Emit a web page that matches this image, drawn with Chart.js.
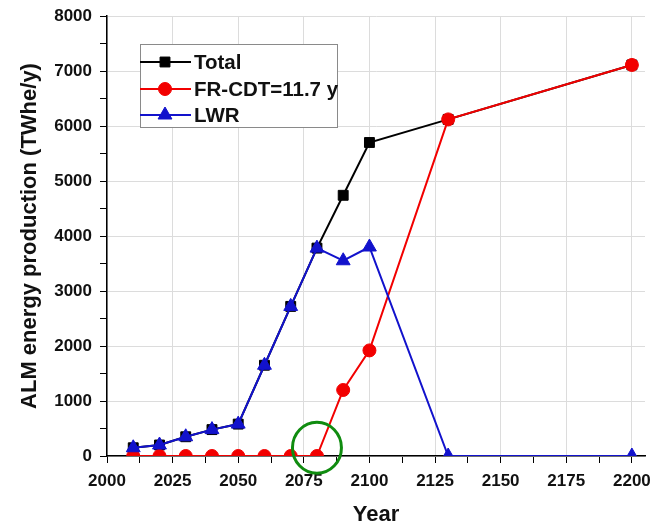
<!DOCTYPE html>
<html><head><meta charset="utf-8">
<script src="https://cdn.jsdelivr.net/npm/chart.js@4.4.0/dist/chart.umd.min.js"></script>
<style>html,body{margin:0;padding:0;background:#fff}#wrap{width:654px;height:526px}</style>
</head><body><div id="wrap"><canvas id="c" width="654" height="526"></canvas></div>
<script>
const years = [2010, 2020, 2030, 2040, 2050, 2060, 2070, 2080, 2090, 2100, 2130, 2200];
const totalValues = [150, 200, 350, 480, 580, 1650, 2720, 3780, 4740, 5700, 6120, 7110];
const frValues = [0, 0, 0, 0, 0, 0, 0, 0, 1200, 1920, 6120, 7110];
const lwrValues = [150, 200, 350, 480, 580, 1650, 2720, 3780, 3550, 3800, 0, 0];
const seriesNames = ['Total', 'FR-CDT=11.7 y', 'LWR'];
const xAxisTitle = 'Year';
const yAxisTitle = 'ALM energy production (TWhe/y)';
const highlightPoint = {x: 2080, y: 150};

const FONT = '"Liberation Sans", Arial, sans-serif';
const colors = {total: '#000000', fr: '#f20000', lwr: '#1212cc'};
const styles = [
  {color: colors.total, point: 'rect', radius: 7},
  {color: colors.fr, point: 'circle', radius: 6.5},
  {color: colors.lwr, point: 'triangle', radius: 8}
];

function toPoints(vals) { return years.map((y, i) => ({x: y, y: vals[i]})); }

function drawMarker(ctx, type, x, y, r, color) {
  ctx.save();
  ctx.fillStyle = color; ctx.strokeStyle = color; ctx.lineWidth = 1;
  ctx.beginPath();
  if (type === 'rect') {
    const s = Math.SQRT1_2 * r;
    ctx.rect(x - s, y - s, 2 * s, 2 * s);
  } else if (type === 'circle') {
    ctx.arc(x, y, r, 0, Math.PI * 2);
  } else {
    ctx.moveTo(x, y - r);
    ctx.lineTo(x + Math.cos(Math.PI / 6) * r, y + r / 2);
    ctx.lineTo(x - Math.cos(Math.PI / 6) * r, y + r / 2);
    ctx.closePath();
  }
  ctx.fill(); ctx.stroke();
  ctx.restore();
}

const areaClip = {
  id: 'areaClip',
  beforeDatasetsDraw(chart) {
    const ca = chart.chartArea, ctx = chart.ctx;
    ctx.save();
    ctx.beginPath();
    ctx.rect(ca.left, ca.top - 10, ca.right - ca.left + 10, ca.bottom - ca.top + 10);
    ctx.clip();
  },
  afterDatasetsDraw(chart) { chart.ctx.restore(); }
};

const boxLegend = {
  id: 'boxLegend',
  afterDraw(chart) {
    const ctx = chart.ctx, ca = chart.chartArea;
    const left = ca.left + 33, top = ca.top + 28, w = 197, h = 83;
    ctx.save();
    ctx.fillStyle = '#ffffff';
    ctx.fillRect(left, top, w, h);
    ctx.strokeStyle = '#8a8a8a'; ctx.lineWidth = 1;
    ctx.strokeRect(left + 0.5, top + 0.5, w, h);
    const rowsY = [top + 18, top + 45, top + 71];
    seriesNames.forEach((name, i) => {
      const st = styles[i];
      ctx.strokeStyle = st.color; ctx.lineWidth = 2;
      ctx.beginPath(); ctx.moveTo(left, rowsY[i]); ctx.lineTo(left + 51, rowsY[i]); ctx.stroke();
      drawMarker(ctx, st.point, left + 25, rowsY[i], st.radius, st.color);
      ctx.fillStyle = '#111';
      ctx.font = 'bold 20.5px ' + FONT;
      ctx.textBaseline = 'middle'; ctx.textAlign = 'left';
      ctx.fillText(name, left + 54, rowsY[i] + 1);
    });
    const xs = chart.scales.x, ys = chart.scales.y;
    const cx = xs.getPixelForValue(highlightPoint.x), cy = ys.getPixelForValue(highlightPoint.y);
    ctx.strokeStyle = '#108c10'; ctx.lineWidth = 3;
    ctx.beginPath(); ctx.ellipse(cx, cy, 24.5, 25.5, 0, 0, Math.PI * 2); ctx.stroke();
    ctx.restore();
  }
};

const gridColor = (step) => (c) => (c.tick && Math.abs(c.tick.value % step) < 1e-6) ? '#dcdcdc' : 'rgba(0,0,0,0)';

new Chart(document.getElementById('c'), {
  type: 'line',
  data: {
    datasets: [
      {label: seriesNames[0], data: toPoints(totalValues), borderColor: colors.total, backgroundColor: colors.total,
       pointStyle: 'rect', pointRadius: 7, borderWidth: 2, pointBorderWidth: 1, order: 3, clip: 0},
      {label: seriesNames[1], data: toPoints(frValues), borderColor: colors.fr, backgroundColor: colors.fr,
       pointStyle: 'circle', pointRadius: 6.5, borderWidth: 2, pointBorderWidth: 1, order: 2, clip: 0},
      {label: seriesNames[2], data: toPoints(lwrValues), borderColor: colors.lwr, backgroundColor: colors.lwr,
       pointStyle: 'triangle', pointRadius: 8, borderWidth: 2, pointBorderWidth: 1, order: 1, clip: 0}
    ]
  },
  options: {
    responsive: false, animation: false,
    layout: {padding: {left: 0, right: 7, top: 16, bottom: 0}},
    plugins: {legend: {display: false}, tooltip: {enabled: false}},
    scales: {
      x: {
        type: 'linear', min: 2000, max: 2205,
        afterFit(s) { s.height = 70; s.paddingLeft = 0; s.paddingRight = 0; },
        border: {color: '#000', width: 1.5},
        grid: {color: gridColor(25), tickColor: '#000', tickLength: 7, lineWidth: 1},
        ticks: {stepSize: 12.5, includeBounds: false, autoSkip: false, maxRotation: 0, color: '#111',
          font: {family: FONT, weight: 'bold', size: 17}, padding: 8,
          callback: v => (v % 25 === 0 ? String(v) : '')},
        title: {display: true, text: xAxisTitle, color: '#111', font: {family: FONT, weight: 'bold', size: 22, lineHeight: 1}, padding: {top: 0, bottom: 0}}
      },
      y: {
        type: 'linear', min: 0, max: 8000,
        afterFit(s) { s.width = 107; s.paddingTop = 0; s.paddingBottom = 0; },
        border: {color: '#000', width: 1.5},
        grid: {color: gridColor(1000), tickColor: '#000', tickLength: 7, lineWidth: 1},
        ticks: {stepSize: 500, autoSkip: false, color: '#111', font: {family: FONT, weight: 'bold', size: 17}, padding: 8,
          callback: v => (v % 1000 === 0 ? String(v) : '')},
        title: {display: true, text: yAxisTitle, color: '#111', font: {family: FONT, weight: 'bold', size: 22, lineHeight: 1.2}, padding: {top: 17, bottom: 0}}
      }
    }
  },
  plugins: [areaClip, boxLegend]
});
</script>
</body></html>
